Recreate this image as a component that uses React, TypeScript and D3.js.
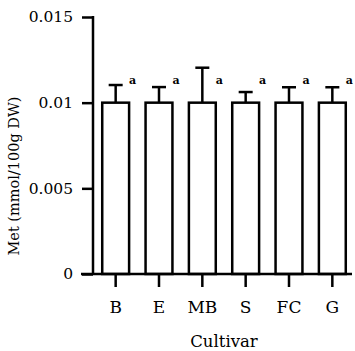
import React, { useRef, useEffect } from "react";
import * as d3 from "d3";

const cultivars = ["B", "E", "MB", "S", "FC", "G"];
const means = [0.01, 0.01, 0.01, 0.01, 0.01, 0.01];
const errors = [0.00103, 0.00091, 0.00204, 0.00062, 0.0009, 0.0009];
const letters = ["a", "a", "a", "a", "a", "a"];
const yTicks = [0, 0.005, 0.01, 0.015];
const yTickLabels = ["0", "0.005", "0.01", "0.015"];

const width = 355;
const height = 351;

const App = () => {
  const svgRef = useRef(null);

  useEffect(() => {
    const svg = d3.select(svgRef.current);
    svg.selectAll("*").remove();
    svg.attr("width", width).attr("height", height);

    // only serif face available in the sandbox
    const font = '"DejaVu Serif", serif';
    const axisX = 93;
    const axisY = 274;

    const x = d3.scaleBand()
      .domain(cultivars)
      .range([94, 354])
      .paddingInner(0.38)
      .paddingOuter(0.19);
    const y = d3.scaleLinear().domain([0, 0.015]).range([axisY, 17]);

    // bars
    svg.selectAll(".bar")
      .data(cultivars)
      .join("rect")
      .attr("class", "bar")
      .attr("x", (d) => x(d))
      .attr("y", (d, i) => y(means[i]))
      .attr("width", x.bandwidth())
      .attr("height", (d, i) => axisY - y(means[i]))
      .attr("fill", "white")
      .attr("stroke", "black")
      .attr("stroke-width", 2.5);

    // error bars (upper half only)
    const eb = svg.selectAll(".err")
      .data(cultivars)
      .join("g")
      .attr("class", "err");
    eb.append("line")
      .attr("x1", (d) => x(d) + x.bandwidth() / 2)
      .attr("x2", (d) => x(d) + x.bandwidth() / 2)
      .attr("y1", (d, i) => y(means[i]))
      .attr("y2", (d, i) => y(means[i] + errors[i]))
      .attr("stroke", "black")
      .attr("stroke-width", 2.5);
    eb.append("line")
      .attr("x1", (d) => x(d) + x.bandwidth() / 2 - 7)
      .attr("x2", (d) => x(d) + x.bandwidth() / 2 + 7)
      .attr("y1", (d, i) => y(means[i] + errors[i]))
      .attr("y2", (d, i) => y(means[i] + errors[i]))
      .attr("stroke", "black")
      .attr("stroke-width", 2.5);

    // significance letters
    svg.selectAll(".letter")
      .data(cultivars)
      .join("text")
      .attr("class", "letter")
      .attr("x", (d) => x(d) + x.bandwidth() / 2 + 17)
      .attr("y", 84)
      .attr("text-anchor", "middle")
      .style("font-family", font)
      .style("font-size", "11px")
      .style("font-weight", "bold")
      .text((d, i) => letters[i]);

    // y axis
    const yAxis = d3.axisLeft(y)
      .tickValues(yTicks)
      .tickSize(11)
      .tickPadding(9)
      .tickFormat((d, i) => yTickLabels[i]);
    const gy = svg.append("g").attr("transform", "translate(" + axisX + ",0)").call(yAxis);
    gy.attr("font-family", null).attr("font-size", null);
    gy.select(".domain").remove();
    gy.append("line")
      .attr("x1", 0).attr("x2", 0)
      .attr("y1", y(0.015) - 1).attr("y2", axisY)
      .attr("stroke", "black").attr("stroke-width", 2.5);
    gy.selectAll(".tick line").attr("stroke", "black").attr("stroke-width", 2.5);
    gy.selectAll(".tick text")
      .style("font-family", font)
      .style("font-size", "15.5px")
      .attr("fill", "black");

    // x axis
    const xAxis = d3.axisBottom(x).tickSize(13).tickPadding(14);
    const gx = svg.append("g").attr("transform", "translate(0," + axisY + ")").call(xAxis);
    gx.attr("font-family", null).attr("font-size", null);
    gx.select(".domain").remove();
    gx.append("line")
      .attr("x1", 81).attr("x2", 352)
      .attr("y1", 0).attr("y2", 0)
      .attr("stroke", "black").attr("stroke-width", 2.5);
    gx.selectAll(".tick line").attr("stroke", "black").attr("stroke-width", 2.5);
    gx.selectAll(".tick text")
      .style("font-family", font)
      .style("font-size", "17px")
      .attr("fill", "black");

    // axis titles
    svg.append("text")
      .attr("x", 224)
      .attr("y", 347)
      .attr("text-anchor", "middle")
      .style("font-family", font)
      .style("font-size", "16.5px")
      .text("Cultivar");

    svg.append("text")
      .attr("transform", "translate(19,176) rotate(-90)")
      .attr("text-anchor", "middle")
      .style("font-family", font)
      .style("font-size", "14.5px")
      .text("Met (mmol/100g DW)");
  }, []);

  return (
    <div style={{ position: "absolute", left: 0, top: 0 }}>
      <svg ref={svgRef} style={{ display: "block" }} />
    </div>
  );
};

export default App;
